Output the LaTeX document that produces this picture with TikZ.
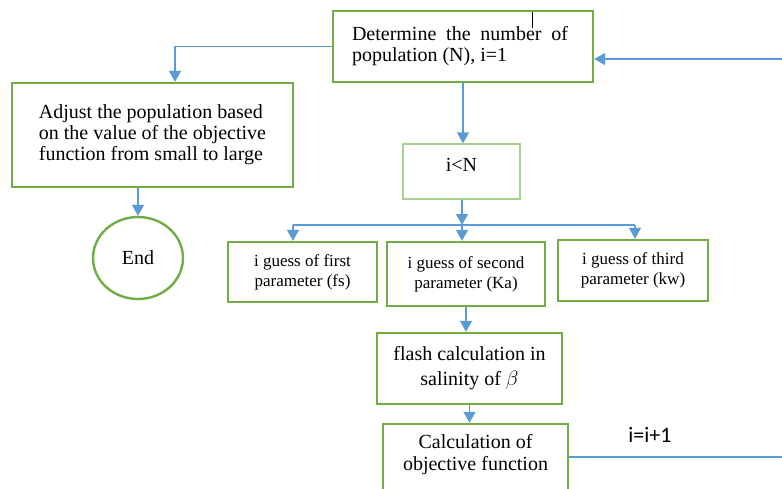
\documentclass[tikz,border=0pt]{standalone}
\usepackage{fontspec}
\setmainfont{Liberation Serif}
\newfontfamily\calfont{Carlito}
\usetikzlibrary{arrows.meta,shapes.geometric}
\definecolor{gborder}{HTML}{70AD47}
\definecolor{lgborder}{HTML}{A9D18E}
\definecolor{bline}{HTML}{5B9BD5}
\begin{document}
\begin{tikzpicture}[x=1pt,y=-1pt,
  gbox/.style={draw=gborder, line width=2.4pt, inner sep=0pt, align=center, font=\fontsize{20}{21}\selectfont},
  pbox/.style={gbox, font=\fontsize{17}{20}\selectfont},
  conn/.style={draw=bline, line width=1.3pt},
  arr/.style={conn, -{Triangle[length=11pt,width=12pt]}}]
\useasboundingbox (0,0) rectangle (782,488);
\clip (0,0) rectangle (782,488);
\fill[white] (0,0) rectangle (782,488);

\node[gbox, minimum width=260pt, minimum height=71pt] (det) at (463,46.5)
  {\hbox to 222pt{Determine\hfill the\hfill number\hfill of\hskip6pt}\\ \hbox to 222pt{population (N), i=1\hfill}};
\draw[black, line width=0.8pt] (532,12) -- (532,28);

\node[gbox, minimum width=281pt, minimum height=104pt, align=left] (adj) at (152.5,135)
  {Adjust the population based\\on the value of the objective\\function from small to large};

\node[draw=gborder, line width=2.4pt, ellipse, minimum width=90pt, minimum height=82pt, font=\fontsize{20}{21}\selectfont] (end) at (138,258) {End};

\node[draw=lgborder, line width=1.2pt, minimum width=117pt, minimum height=55pt] (iln) at (461.5,171.5) {};
\node[font=\fontsize{20}{21}\selectfont] (ilntext) at (461.5,165) {i<N};

\node[pbox, minimum width=149pt, minimum height=60pt] (fs) at (302.5,272) {i guess of first\\parameter (fs)};
\node[pbox, minimum width=158pt, minimum height=64pt] (ka) at (466,274) {i guess of second\\parameter (Ka)};
\node[pbox, minimum width=150pt, minimum height=61pt] (kw) at (633,270.5) {i guess of third\\parameter (kw)};

\node[gbox, minimum width=185pt, minimum height=71pt, font=\fontsize{20}{25}\selectfont] (flash) at (469.5,368.5)
  {flash calculation in\\salinity of $\beta$};

\node[gbox, minimum width=185pt, minimum height=76pt] (calc) at (475.5,462) {};
\node[font=\fontsize{20}{22}\selectfont, align=center] (calct) at (475.5,455) {Calculation of\\objective function};

\node[font=\calfont\fontsize{22}{24}\selectfont] (inc) at (650,435) {i=i+1};

% connectors
\coordinate (rin) at (782,59);
\draw[arr] (rin) -- (rin -| det.east);
\coordinate (lc) at (175,46.5);
\draw[arr] (det.west) -- (lc) -- (lc |- adj.north);
\draw[arr] (end.north |- adj.south) -- (end.north);
\draw[arr] (det.south) -- (det.south |- iln.north);
\coordinate (j) at (462,225);
\coordinate (jl) at (293,225);
\coordinate (jr) at (635,225);
\draw[arr] (j |- iln.south) -- (j);
\draw[conn] (jl) -- (jr);
\draw[arr] (jl) -- (jl |- fs.north);
\draw[arr] (j) -- (j |- ka.north);
\draw[arr] (jr) -- (jr |- kw.north);
\draw[arr] (ka.south) -- (ka.south |- flash.north);
\draw[arr] (flash.south) -- (flash.south |- calc.north);
\coordinate (rout) at (782,457);
\draw[conn] (calc.east |- rout) -- (rout);
\end{tikzpicture}
\end{document}
